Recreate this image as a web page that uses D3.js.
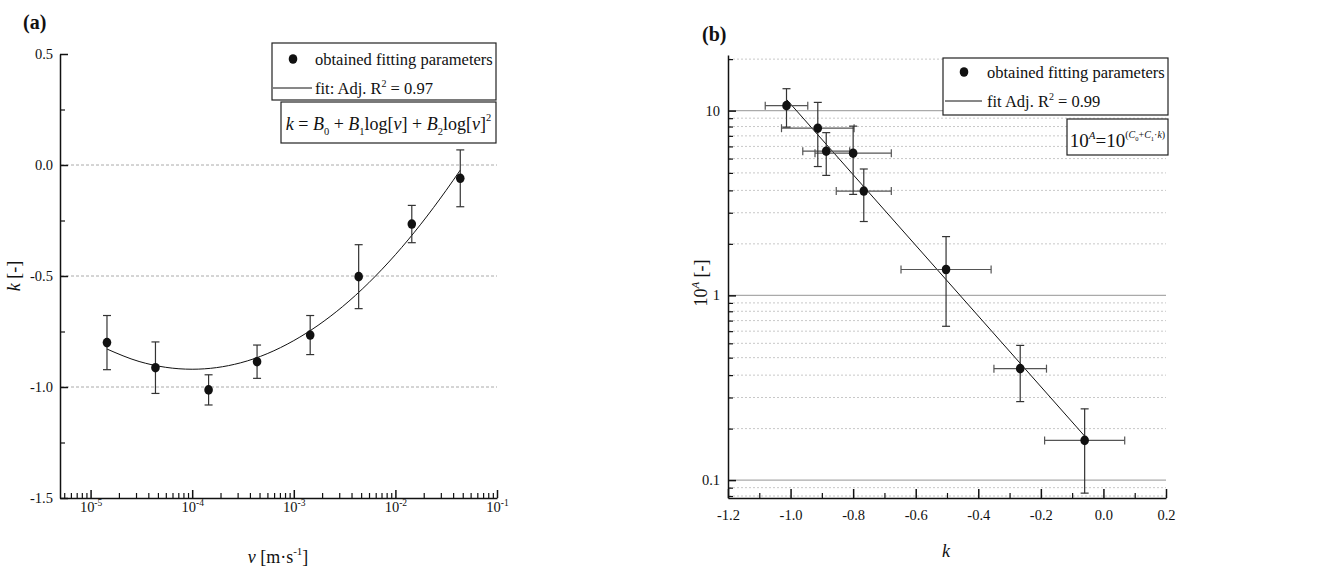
<!DOCTYPE html>
<html lang="en">
<head>
<meta charset="UTF-8">
<title>Fitting parameters k and 10^A</title>
<script src="https://d3js.org/d3.v7.min.js"></script>
<style>
  body { margin: 0; background: #fff; }
  svg { display: block; font-family: 'Liberation Serif', 'Times New Roman', serif; fill: #111; }
  .axis path, .axis line { stroke: #111; stroke-width: 1.5; }
  .axis.minor line { stroke-width: 1.2; }
  .axis text { font-family: 'Liberation Serif', 'Times New Roman', serif; font-size: 14.5px; fill: #111; }
  .legend-text { font-size: 16.5px; }
  .axis-title { font-size: 18px; }
  .panel-label { font-size: 20px; font-weight: bold; }
</style>
</head>
<body>
<svg id="chart" width="1318" height="571"></svg>
<script>
// ---- panel (a): k vs v ----
const velocity = [1.45e-5, 4.35e-5, 1.45e-4, 4.35e-4, 1.45e-3, 4.35e-3, 1.45e-2, 4.35e-2];
const kValues  = [-0.80, -0.913, -1.013, -0.886, -0.766, -0.503, -0.266, -0.06];
const kErrors  = [0.122, 0.116, 0.068, 0.075, 0.088, 0.144, 0.084, 0.128];
// fit curve
const fitVelocity = [1.45e-5, 3e-5, 1e-4, 3e-4, 1e-3, 3e-3, 1e-2, 3.16e-2, 4.35e-2];
const fitK        = [-0.829, -0.885, -0.92, -0.891, -0.791, -0.639, -0.404, -0.114, -0.023];
const kTicks      = [0.5, 0.0, -0.5, -1.0, -1.5];
const kTickLabels = ["0.5", "0.0", "-0.5", "-1.0", "-1.5"];
const kMinorTicks = [0.25, -0.25, -0.75, -1.25];
const kGrid       = [0.0, -0.5, -1.0];
const vTicks      = [1e-5, 1e-4, 1e-3, 1e-2, 1e-1];
const vTickExp    = ["-5", "-4", "-3", "-2", "-1"];
const vMinorSteps = [1.9, 2.8, 3.7, 4.6, 5.5, 6.4, 7.3, 8.2, 9.1];
const vDecades    = [1e-6, 1e-5, 1e-4, 1e-3, 1e-2];

// ---- panel (b): 10^A vs k ----
const a10Values = [5.88, 8.03, 10.64, 6.03, 3.67, 1.38, 0.401, 0.164];
const a10Errors = [2.36, 3.05, 2.5, 1.57, 1.16, 0.70, 0.135, 0.079];
const fitLineK  = [-1.013, -0.06];
const fitLineA  = [11.5, 0.173];
const kAxisTicks      = [-1.2, -1.0, -0.8, -0.6, -0.4, -0.2, 0.0, 0.2];
const kAxisTickLabels = ["-1.2", "-1.0", "-0.8", "-0.6", "-0.4", "-0.2", "0.0", "0.2"];
const kAxisMinor      = [-1.1, -0.9, -0.7, -0.5, -0.3, -0.1, 0.1];
const a10Ticks      = [0.1, 1, 10];
const a10TickLabels = ["0.1", "1", "10"];
const a10Minor = [0.082, 0.091, 0.19, 0.28, 0.37, 0.46, 0.55, 0.64, 0.73, 0.82, 0.91,
                  1.9, 2.8, 3.7, 4.6, 5.5, 6.4, 7.3, 8.2, 9.1, 19];

const svg = d3.select("#chart");

// writes text made of pieces with their own style and baseline offset
function richText(sel, parts, size) {
    let cur = 0;
    parts.forEach(p => {
        const off = p.off || 0;
        const t = sel.append("tspan")
            .attr("dy", off - cur)
            .style("font-size", (p.size || size) + "px")
            .text(p.t);
        if (p.i) t.style("font-style", "italic");
        cur = off;
    });
    return sel;
}

function cleanAxis(g) {
    g.attr("font-size", null).attr("font-family", null);
}

function errorBarV(g, x, y0, y1, cap) {
    g.append("line").attr("x1", x).attr("x2", x).attr("y1", y0).attr("y2", y1);
    g.append("line").attr("x1", x - cap).attr("x2", x + cap).attr("y1", y0).attr("y2", y0);
    g.append("line").attr("x1", x - cap).attr("x2", x + cap).attr("y1", y1).attr("y2", y1);
}
function errorBarH(g, y, x0, x1, cap) {
    g.append("line").attr("x1", x0).attr("x2", x1).attr("y1", y).attr("y2", y);
    g.append("line").attr("x1", x0).attr("x2", x0).attr("y1", y - cap).attr("y2", y + cap);
    g.append("line").attr("x1", x1).attr("x2", x1).attr("y1", y - cap).attr("y2", y + cap);
}

// ================= panel (a) =================
const xA = d3.scaleLog().domain([5e-6, 0.1]).range([60, 497]);
const yA = d3.scaleLinear().domain([-1.5, 0.5]).range([498, 54]);

svg.selectAll(".gridA").data(kGrid).enter().append("line")
    .attr("x1", 61).attr("x2", 497)
    .attr("y1", d => yA(d)).attr("y2", d => yA(d))
    .attr("stroke", "#aaa").attr("stroke-dasharray", "3,2").attr("stroke-width", 1);

// y axis
svg.append("g").attr("class", "axis").attr("transform", "translate(60,0)")
    .call(d3.axisLeft(yA).tickValues(kTicks).tickSize(-8).tickSizeOuter(0).tickPadding(7)
        .tickFormat((d, i) => kTickLabels[i]))
    .call(cleanAxis);
svg.append("g").attr("class", "axis minor").attr("transform", "translate(60,0)")
    .call(d3.axisLeft(yA).tickValues(kMinorTicks).tickSize(-5).tickFormat(""))
    .call(g => g.select(".domain").remove());

// x axis
const vMinor = [];
vDecades.forEach(d => vMinorSteps.forEach(m => {
    const v = d * m;
    if (v >= 5e-6 && v <= 0.1) vMinor.push(v);
}));
const xAxisA = svg.append("g").attr("class", "axis").attr("transform", "translate(0,498)")
    .call(d3.axisBottom(xA).tickValues(vTicks).tickSize(-8).tickSizeOuter(0).tickPadding(14)
        .tickFormat(""))
    .call(cleanAxis);
xAxisA.selectAll(".tick text").each(function (d, i) {
    richText(d3.select(this), [{ t: "10" }, { t: vTickExp[i], size: 9.5, off: -6 }], 14.5);
});
svg.append("g").attr("class", "axis minor").attr("transform", "translate(0,498)")
    .call(d3.axisBottom(xA).tickValues(vMinor).tickSize(-5).tickFormat(""))
    .call(g => g.select(".domain").remove());

// fit curve
const fitDataA = fitVelocity.map((v, i) => ({ v, k: fitK[i] }));
svg.append("path").datum(fitDataA)
    .attr("fill", "none").attr("stroke", "#111").attr("stroke-width", 1)
    .attr("d", d3.line().x(d => xA(d.v)).y(d => yA(d.k)).curve(d3.curveMonotoneX));

// error bars + points
const dataA = velocity.map((v, i) => ({ v, k: kValues[i], e: kErrors[i] }));
const errA = svg.append("g").attr("stroke", "#333").attr("stroke-width", 1.2);
dataA.forEach(d => errorBarV(errA, xA(d.v), yA(d.k + d.e), yA(d.k - d.e), 4));
svg.selectAll(".ptA").data(dataA).enter().append("ellipse")
    .attr("cx", d => xA(d.v)).attr("cy", d => yA(d.k))
    .attr("rx", 4.3).attr("ry", 4.8).attr("fill", "#111");

// legend (a)
svg.append("rect").attr("x", 272).attr("y", 43).attr("width", 224).attr("height", 57)
    .attr("fill", "#fff").attr("stroke", "#222").attr("stroke-width", 1.2);
svg.append("ellipse").attr("cx", 293).attr("cy", 59).attr("rx", 4.3).attr("ry", 4.8).attr("fill", "#111");
svg.append("text").attr("class", "legend-text").attr("x", 315).attr("y", 65)
    .text("obtained fitting parameters");
svg.append("line").attr("x1", 273).attr("x2", 312).attr("y1", 88).attr("y2", 88)
    .attr("stroke", "#111").attr("stroke-width", 1);
richText(svg.append("text").attr("class", "legend-text").attr("x", 315).attr("y", 94),
    [{ t: "fit: Adj. R" }, { t: "2", size: 10, off: -7 }, { t: " = 0.97" }], 16.5);

svg.append("rect").attr("x", 281).attr("y", 102).attr("width", 215).attr("height", 41)
    .attr("fill", "#fff").attr("stroke", "#222").attr("stroke-width", 1.2);
richText(svg.append("text").attr("x", 388.5).attr("y", 130).attr("text-anchor", "middle"), [
    { t: "k", i: true }, { t: " = " }, { t: "B", i: true }, { t: "0", size: 10.5, off: 5 },
    { t: " + " }, { t: "B", i: true }, { t: "1", size: 10.5, off: 5 }, { t: "log[" },
    { t: "v", i: true }, { t: "] + " }, { t: "B", i: true }, { t: "2", size: 10.5, off: 5 },
    { t: "log[" }, { t: "v", i: true }, { t: "]" }, { t: "2", size: 10.5, off: -9 }
], 18);

// titles (a)
svg.append("text").attr("class", "panel-label").attr("x", 23).attr("y", 29).text("(a)");
richText(svg.append("text").attr("class", "axis-title").attr("text-anchor", "middle")
        .attr("transform", "translate(20,276) rotate(-90)"),
    [{ t: "k", i: true }, { t: " [-]" }], 18);
richText(svg.append("text").attr("class", "axis-title").attr("text-anchor", "middle")
        .attr("x", 278).attr("y", 563),
    [{ t: "v", i: true }, { t: " [m·s" }, { t: "-1", size: 11, off: -8 }, { t: "]" }], 18);

// ================= panel (b) =================
const xB = d3.scaleLinear().domain([-1.2, 0.2]).range([728, 1166]);
const yB = d3.scaleLog().domain([0.08, 20]).range([498, 55]);

svg.selectAll(".gridBminor").data(a10Minor).enter().append("line")
    .attr("x1", 729).attr("x2", 1166)
    .attr("y1", d => yB(d)).attr("y2", d => yB(d))
    .attr("stroke", "#c8c8c8").attr("stroke-dasharray", "2,2").attr("stroke-width", 1);
svg.selectAll(".gridBmajor").data(a10Ticks).enter().append("line")
    .attr("x1", 729).attr("x2", 1166)
    .attr("y1", d => yB(d)).attr("y2", d => yB(d))
    .attr("stroke", "#aaa").attr("stroke-width", 1.2);

svg.append("g").attr("class", "axis").attr("transform", "translate(728,0)")
    .call(d3.axisLeft(yB).tickValues(a10Ticks).tickSize(-8).tickSizeOuter(0).tickPadding(8)
        .tickFormat((d, i) => a10TickLabels[i]))
    .call(cleanAxis);
svg.append("g").attr("class", "axis minor").attr("transform", "translate(728,0)")
    .call(d3.axisLeft(yB).tickValues(a10Minor).tickSize(-5).tickFormat(""))
    .call(g => g.select(".domain").remove());

svg.append("g").attr("class", "axis").attr("transform", "translate(0,498)")
    .call(d3.axisBottom(xB).tickValues(kAxisTicks).tickSize(-9).tickSizeOuter(0).tickPadding(12)
        .tickFormat((d, i) => kAxisTickLabels[i]))
    .call(cleanAxis);
svg.append("g").attr("class", "axis minor").attr("transform", "translate(0,498)")
    .call(d3.axisBottom(xB).tickValues(kAxisMinor).tickSize(-5).tickFormat(""))
    .call(g => g.select(".domain").remove());

// fit line
const fitDataB = fitLineK.map((k, i) => ({ k, a: fitLineA[i] }));
svg.append("path").datum(fitDataB)
    .attr("fill", "none").attr("stroke", "#111").attr("stroke-width", 1)
    .attr("d", d3.line().x(d => xB(d.k)).y(d => yB(d.a)));

const dataB = kValues.map((k, i) => ({ k, ke: kErrors[i], a: a10Values[i], ae: a10Errors[i] }));
const errBh = svg.append("g").attr("stroke", "#555").attr("stroke-width", 1.2);
dataB.forEach(d => errorBarH(errBh, yB(d.a), xB(d.k - d.ke), xB(d.k + d.ke), 4));
const errBv = svg.append("g").attr("stroke", "#333").attr("stroke-width", 1.2);
dataB.forEach(d => errorBarV(errBv, xB(d.k), yB(d.a + d.ae), yB(d.a - d.ae), 4));
svg.selectAll(".ptB").data(dataB).enter().append("ellipse")
    .attr("cx", d => xB(d.k)).attr("cy", d => yB(d.a))
    .attr("rx", 4.3).attr("ry", 4.8).attr("fill", "#111");

// legend (b)
svg.append("rect").attr("x", 943).attr("y", 58).attr("width", 225).attr("height", 57)
    .attr("fill", "#fff").attr("stroke", "#222").attr("stroke-width", 1.2);
svg.append("ellipse").attr("cx", 964).attr("cy", 72).attr("rx", 4.3).attr("ry", 4.8).attr("fill", "#111");
svg.append("text").attr("class", "legend-text").attr("x", 987).attr("y", 78)
    .text("obtained fitting parameters");
svg.append("line").attr("x1", 945).attr("x2", 982).attr("y1", 101).attr("y2", 101)
    .attr("stroke", "#111").attr("stroke-width", 1);
richText(svg.append("text").attr("class", "legend-text").attr("x", 987).attr("y", 107),
    [{ t: "fit Adj. R" }, { t: "2", size: 10, off: -7 }, { t: " = 0.99" }], 16.5);

svg.append("rect").attr("x", 1067).attr("y", 119).attr("width", 101).attr("height", 36)
    .attr("fill", "#fff").attr("stroke", "#222").attr("stroke-width", 1.2);
richText(svg.append("text").attr("x", 1117.5).attr("y", 147).attr("text-anchor", "middle"), [
    { t: "10" }, { t: "A", i: true, size: 11, off: -8 }, { t: "=10" },
    { t: "(", size: 10, off: -9 }, { t: "C", i: true, size: 10, off: -9 }, { t: "0", size: 6.5, off: -6 },
    { t: "+", size: 10, off: -9 }, { t: "C", i: true, size: 10, off: -9 }, { t: "1", size: 6.5, off: -6 },
    { t: "·", size: 10, off: -9 }, { t: "k", i: true, size: 10, off: -9 }, { t: ")", size: 10, off: -9 }
], 19);

// titles (b)
svg.append("text").attr("class", "panel-label").attr("x", 702).attr("y", 41).text("(b)");
richText(svg.append("text").attr("class", "axis-title").attr("text-anchor", "middle")
        .attr("transform", "translate(707,283) rotate(-90)"),
    [{ t: "10" }, { t: "A", i: true, size: 11, off: -8 }, { t: " [-]" }], 18);
richText(svg.append("text").attr("class", "axis-title").attr("text-anchor", "middle")
        .attr("x", 946).attr("y", 557),
    [{ t: "k", i: true }], 18);
</script>
</body>
</html>
